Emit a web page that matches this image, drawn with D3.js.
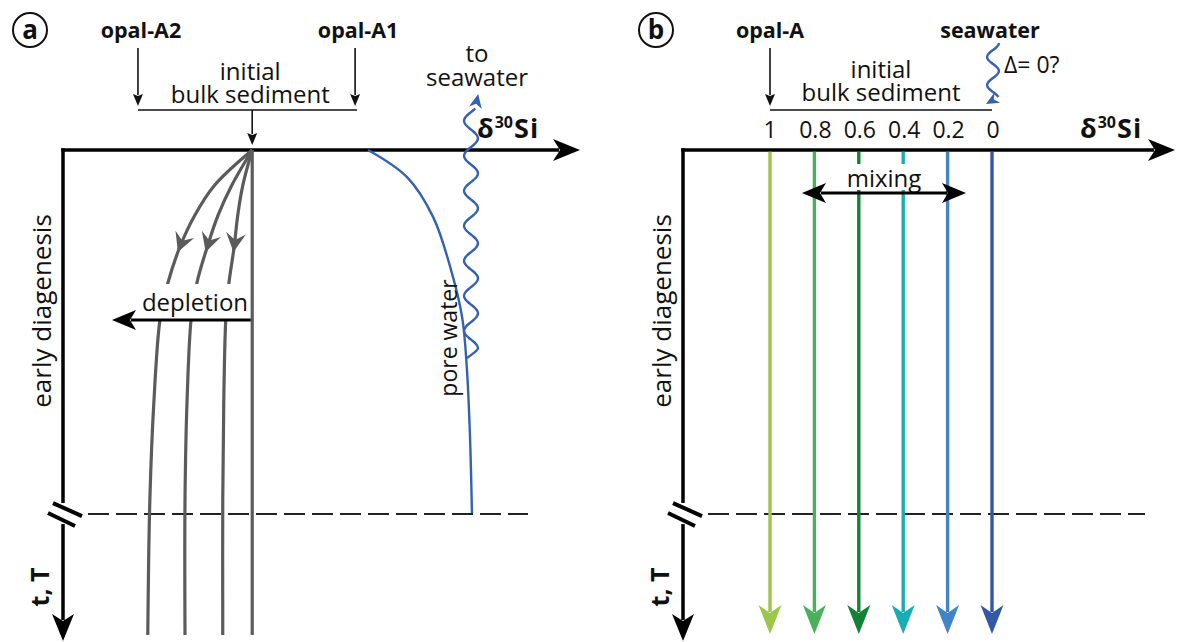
<!DOCTYPE html>
<html><head><meta charset="utf-8">
<script src="https://cdn.jsdelivr.net/npm/d3@7"></script>
<style>
body{margin:0;background:#fff}
text{font-family:"Open Sans",sans-serif;fill:#111}
</style>
</head><body>
<svg id="chart" width="1178" height="642"></svg>
<script>
// ---------------- data ----------------
const panelLabels = ["a", "b"];
// panel a: delta positions (0..1 along delta axis), time 0..1 along time axis
const aSourceNames = ["opal-A2", "opal-A1"];
const aSourceDelta = [0.145, 0.565];
const aBulkDelta = 0.366;
const depletionDelta = [
  [0.366, 0.294, 0.255, 0.226, 0.203, 0.188, 0.176, 0.168, 0.164],
  [0.366, 0.327, 0.300, 0.279, 0.259, 0.248, 0.240, 0.236, 0.236],
  [0.366, 0.348, 0.338, 0.331, 0.321, 0.315, 0.311, 0.309, 0.309]
];
const depletionTime = [0, 0.071, 0.133, 0.198, 0.271, 0.343, 0.510, 0.714, 0.990];
const poreDelta = [0.590, 0.665, 0.716, 0.749, 0.772, 0.781, 0.787, 0.791];
const poreTime  = [0, 0.055, 0.137, 0.239, 0.341, 0.443, 0.578, 0.741];
const breakTime = 0.743;
// panel b: mixing end-members
const bTickValues = [1, 0.8, 0.6, 0.4, 0.2, 0];
const bTickLabels = ["1", "0.8", "0.6", "0.4", "0.2", "0"];
const bColors = ["#9cc74a", "#4bb05a", "#128236", "#18adb5", "#3f85c8", "#3358a6"];

// ---------------- layout ----------------
const svg = d3.select("#chart");
const axisY = 150, axisBottom = 640;
const FS = 24;
const panels = [
  {ox: 63,  xEnd: 580,  label: "a", cx: 30},
  {ox: 683, xEnd: 1175, label: "b", cx: 656}
];
const yT = d3.scaleLinear().domain([0, 1]).range([axisY, axisBottom]);
const xA = d3.scaleLinear().domain([0, 1]).range([63, 580]);
const xB = d3.scaleLinear().domain([1, 0]).range([770, 992]);

function head(g, tip, angle, len, hw, notch, color) {
  const c = Math.cos(angle), s = Math.sin(angle);
  const P = (a, b) => [tip[0] - a * c - b * s, tip[1] - a * s + b * c];
  const pts = [tip, P(len, hw), P(len - notch, 0), P(len, -hw)];
  g.append("path").attr("d", "M" + pts.map(p => p.join(",")).join("L") + "Z")
    .attr("fill", color);
}
function arrowLine(g, x1, y1, x2, y2, color, w, len, hw, notch) {
  const ang = Math.atan2(y2 - y1, x2 - x1);
  const L = Math.hypot(x2 - x1, y2 - y1) - (len - notch) - 1;
  g.append("line").attr("x1", x1).attr("y1", y1)
    .attr("x2", x1 + L * Math.cos(ang)).attr("y2", y1 + L * Math.sin(ang))
    .attr("stroke", color).attr("stroke-width", w);
  head(g, [x2, y2], ang, len, hw, notch, color);
}
function twoLine(g, x, y, l1, l2, gap) {
  const t = g.append("text").attr("x", x).attr("y", y).attr("text-anchor", "middle").attr("font-size", FS);
  t.append("tspan").attr("x", x).text(l1);
  t.append("tspan").attr("x", x).attr("dy", gap).text(l2);
}
function deltaLabel(g, x, y) {
  const t = g.append("text").attr("x", x).attr("y", y)
    .attr("font-weight", "bold").attr("font-size", 27);
  t.append("tspan").text("δ");
  t.append("tspan").attr("dy", -10).attr("dx", 1).attr("font-size", 16).text("30");
  t.append("tspan").attr("dy", 10).attr("dx", 1).attr("letter-spacing", 1).text("Si");
}
function frame(p) {
  const g = svg.append("g");
  g.append("circle").attr("cx", p.cx).attr("cy", 30).attr("r", 17)
    .attr("fill", "none").attr("stroke", "#111").attr("stroke-width", 2);
  g.append("text").attr("x", p.cx).attr("y", 39).attr("text-anchor", "middle")
    .attr("font-weight", "bold").attr("font-size", 26).text(p.label);
  const yb = yT(breakTime);
  g.append("line").attr("x1", p.ox + 25).attr("x2", p.label === "a" ? 528 : 1145)
    .attr("y1", yb).attr("y2", yb)
    .attr("stroke", "#222").attr("stroke-width", 2).attr("stroke-dasharray", "21,7");
  g.append("line").attr("x1", p.ox).attr("x2", p.ox).attr("y1", axisY - 1.75).attr("y2", yb - 11)
    .attr("stroke", "#000").attr("stroke-width", 3.5);
  arrowLine(g, p.ox, yb + 10, p.ox, 641, "#000", 3.5, 27, 11, 7);
  [[-10, -11, 19, 2], [-15, -1, 12, 12]].forEach(m => {
    g.append("line").attr("x1", p.ox + m[0]).attr("y1", yb + m[1])
      .attr("x2", p.ox + m[2]).attr("y2", yb + m[3])
      .attr("stroke", "#000").attr("stroke-width", 4);
  });
  arrowLine(g, p.ox - 1.75, axisY, p.xEnd, axisY, "#000", 3.5, 27, 11, 7);
  g.append("text").attr("transform", `translate(${p.ox - 12},311) rotate(-90)`)
    .attr("text-anchor", "middle").attr("font-size", 26).text("early diagenesis");
  g.append("text").attr("transform", `translate(${p.ox - 14},587) rotate(-90)`)
    .attr("text-anchor", "middle").attr("font-weight", "bold").attr("font-size", 25).text("t, T");
  return g;
}

// ---------------- panel a ----------------
const gA = frame(panels[0]);
aSourceNames.forEach((n, i) => {
  const x = xA(aSourceDelta[i]);
  gA.append("text").attr("x", x + 3).attr("y", 38).attr("text-anchor", "middle")
    .attr("font-weight", "bold").attr("font-size", 21.5).text(n);
  arrowLine(gA, x, 48, x, 106, "#111", 1.6, 12, 5, 2);
});
gA.append("line").attr("x1", xA(aSourceDelta[0])).attr("x2", xA(aSourceDelta[1]) + 2)
  .attr("y1", 110).attr("y2", 110).attr("stroke", "#111").attr("stroke-width", 1.6);
twoLine(gA, xA(aBulkDelta) - 2, 80, "initial", "bulk sediment", 23);
arrowLine(gA, xA(aBulkDelta), 110, xA(aBulkDelta), 145, "#111", 1.6, 12, 5, 2);
deltaLabel(gA, 477, 138);
twoLine(gA, 477, 62, "to", "seawater", 24);

const gray = "#5b5b5b";
const lineA = d3.line().x(d => xA(d[0])).y(d => yT(d[1])).curve(d3.curveCatmullRom.alpha(0.5));
depletionDelta.forEach(arr => {
  const pts = arr.map((d, i) => [d, depletionTime[i]]);
  const path = gA.append("path").attr("d", lineA(pts)).attr("fill", "none")
    .attr("stroke", gray).attr("stroke-width", 3.2);
  const node = path.node(), tot = node.getTotalLength();
  let lo = 0, hi = tot;
  for (let k = 0; k < 30; k++) { const m = (lo + hi) / 2; if (node.getPointAtLength(m).y < 252) lo = m; else hi = m; }
  const p1 = node.getPointAtLength(lo), p0 = node.getPointAtLength(lo - 6);
  head(gA, [p1.x, p1.y], Math.atan2(p1.y - p0.y, p1.x - p0.x), 19, 10, 7, gray);
});
gA.append("rect").attr("x", 120).attr("y", 284).attr("width", 130).attr("height", 35).attr("fill", "#fff");
gA.append("line").attr("x1", xA(aBulkDelta)).attr("x2", xA(aBulkDelta))
  .attr("y1", axisY).attr("y2", yT(depletionTime[depletionTime.length - 1]))
  .attr("stroke", gray).attr("stroke-width", 3.2);
gA.append("text").attr("x", 195).attr("y", 311).attr("text-anchor", "middle")
  .attr("font-size", FS).text("depletion");
arrowLine(gA, xA(aBulkDelta) - 1.5, 320, 112, 320, "#000", 3, 24, 10, 6);

// pore water
const blue = "#3461b4";
const porePts = poreDelta.map((d, i) => [d, poreTime[i]]);
gA.append("path").attr("d", lineA(porePts)).attr("fill", "none")
  .attr("stroke", blue).attr("stroke-width", 2.4);
gA.append("text").attr("transform", "translate(457,338) rotate(-90)")
  .attr("text-anchor", "middle").attr("font-size", 23).text("pore water");
(function () {
  const cx = 471, amp = 7, per = 35, y1 = 108;
  const pts = [[467, 358]];
  for (let y = 350; y >= y1; y -= 1.5) {
    pts.push([cx + amp * Math.sin(2 * Math.PI * (y - 350) / per + Math.PI / 2 + 0.3), y]);
  }
  gA.append("path").attr("d", d3.line().curve(d3.curveBasis)(pts)).attr("fill", "none")
    .attr("stroke", blue).attr("stroke-width", 2.4);
  const last = pts[pts.length - 1];
  head(gA, [last[0] + 3, 94], Math.atan2(94 - last[1], 3), 14, 6.5, 4, blue);
})();

// ---------------- panel b ----------------
const gB = frame(panels[1]);
gB.append("text").attr("x", xB(1)).attr("y", 38).attr("text-anchor", "middle")
  .attr("font-weight", "bold").attr("font-size", 21.5).text("opal-A");
gB.append("text").attr("x", xB(0) - 2).attr("y", 38).attr("text-anchor", "middle")
  .attr("font-weight", "bold").attr("font-size", 21.5).text("seawater");
arrowLine(gB, xB(1), 48, xB(1), 106, "#111", 1.6, 12, 5, 2);
gB.append("line").attr("x1", xB(1)).attr("x2", xB(0)).attr("y1", 110).attr("y2", 110)
  .attr("stroke", "#111").attr("stroke-width", 1.6);
twoLine(gB, 881, 78, "initial", "bulk sediment", 23);
gB.append("text").attr("x", 1004).attr("y", 73).attr("font-size", 23).text("Δ= 0?");
deltaLabel(gB, 1080, 138);
(function () {
  const cx = 993, amp = 6, per = 28, ya = 43, yb = 97;
  const pts = [];
  for (let y = ya; y <= yb; y += 1.5) {
    pts.push([cx + amp * Math.sin(2 * Math.PI * (y - ya) / per + Math.PI / 2), y]);
  }
  gB.append("path").attr("d", d3.line().curve(d3.curveBasis)(pts)).attr("fill", "none")
    .attr("stroke", blue).attr("stroke-width", 2.4);
  const last = pts[pts.length - 1];
  head(gB, [986, 104], Math.atan2(104 - last[1], 986 - last[0]), 13, 6, 4, blue);
})();
gB.selectAll("text.tick").data(bTickLabels).enter().append("text").attr("class", "tick")
  .attr("x", (d, i) => xB(bTickValues[i]) + (i === 0 ? 0 : 1)).attr("y", 138).attr("text-anchor", "middle")
  .attr("font-size", 23).text(d => d);
bTickValues.forEach((v, i) => {
  arrowLine(gB, xB(v), axisY + 1.75, xB(v), 634, bColors[i], 3.4, 29, 11.5, 8);
});
gB.append("rect").attr("x", 845).attr("y", 164).attr("width", 78).attr("height", 26).attr("fill", "#fff");
gB.append("text").attr("x", 884).attr("y", 187).attr("text-anchor", "middle")
  .attr("font-size", FS).text("mixing");
arrowLine(gB, 884, 193, 802, 193, "#000", 3.2, 24, 10, 6);
arrowLine(gB, 884, 193, 966, 193, "#000", 3.2, 24, 10, 6);
</script>
</body></html>
